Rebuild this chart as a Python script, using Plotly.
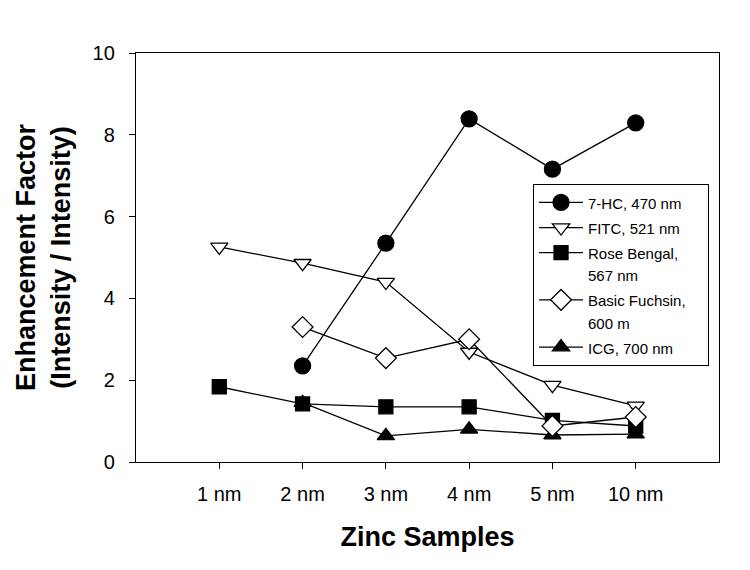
import plotly.graph_objects as go

categories = ["1 nm", "2 nm", "3 nm", "4 nm", "5 nm", "10 nm"]

hc7 = [None, 2.35, 5.35, 8.39, 7.16, 8.29]
fitc = [5.26, 4.86, 4.40, 2.69, 1.88, 1.37]
rose_bengal = [1.84, 1.42, 1.35, 1.35, 1.02, 0.88]
basic_fuchsin = [None, 3.30, 2.54, 3.00, 0.88, 1.10]
icg = [None, 1.45, 0.64, 0.80, 0.66, 0.68]

legend_lines = {
    "hc7": ["7-HC, 470 nm"],
    "fitc": ["FITC, 521 nm"],
    "rb": ["Rose Bengal,", "567 nm"],
    "bf": ["Basic Fuchsin,&nbsp;&nbsp;&nbsp;&nbsp;", "600 m"],
    "icg": ["ICG, 700 nm"],
}

def label(key):
    return "<br>".join("<span style='font-size:15px'>%s</span>" % s
                       for s in legend_lines[key])

FONT = "Liberation Sans, Arial, sans-serif"
LINE = dict(color="black", width=1.3)

fig = go.Figure()

def add(y, key, symbol, size, fill, rank):
    fig.add_trace(go.Scatter(
        x=categories, y=y, name=label(key), mode="lines+markers",
        line=LINE,
        marker=dict(symbol=symbol, size=size, color=fill,
                    line=dict(color="black", width=1.3)),
        legendrank=rank,
    ))

# draw order chosen for overlap; legend order via legendrank
add(icg, "icg", "triangle-up", 15, "black", 5)
add(rose_bengal, "rb", "square", 14, "black", 3)
add(fitc, "fitc", "triangle-down", 15, "white", 2)
add(basic_fuchsin, "bf", "diamond", 16, "white", 4)
add(hc7, "hc7", "circle", 16, "black", 1)

# page has an 8px body margin; margins compensate so the plot box
# lands at x 136-719, y 53-462 in the window
fig.update_layout(
    width=750, height=570,
    margin=dict(l=128, r=39, t=45, b=116),
    paper_bgcolor="white", plot_bgcolor="white",
    font=dict(family=FONT, color="black", size=20),
    showlegend=True,
    legend=dict(
        x=0.681, y=0.68, xanchor="left", yanchor="top",
        bgcolor="white", bordercolor="black", borderwidth=1,
        font=dict(family=FONT, size=17, color="black"),
        valign="top", itemwidth=44,
    ),
)

fig.update_xaxes(
    type="category", range=[-1, 6], automargin=False,
    showline=True, linecolor="black", linewidth=1.3, mirror=True,
    ticks="outside", ticklen=6, tickwidth=1.3, tickcolor="black",
    showgrid=False, zeroline=False,
    tickfont=dict(size=20), ticklabelstandoff=8,
    title=dict(text="<b>Zinc Samples</b>", font=dict(size=27), standoff=22),
)
fig.update_yaxes(
    range=[0, 10], dtick=2, automargin=False,
    showline=True, linecolor="black", linewidth=1.3, mirror=True,
    ticks="outside", ticklen=6, tickwidth=1.3, tickcolor="black",
    showgrid=False, zeroline=False,
    tickfont=dict(size=20), ticklabelstandoff=10,
    title=dict(text="<b>Enhancement Factor<br>(Intensity / Intensity)</b>",
               font=dict(size=27), standoff=14),
)

fig.write_html("out.html")
